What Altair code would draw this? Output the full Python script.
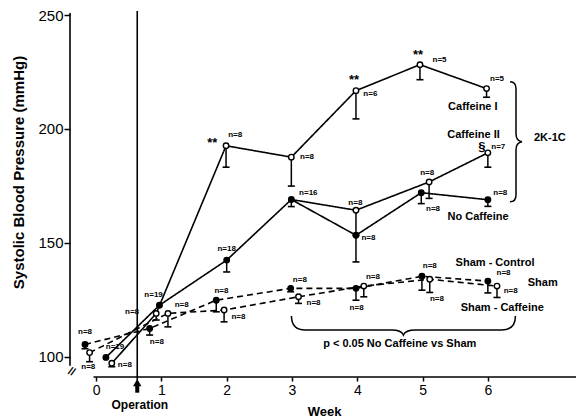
import altair as alt
import pandas as pd

FONT = "Liberation Sans"

# ---------------- data ----------------
weeks_tick = [0, 1, 2, 3, 4, 5, 6]
y_ticks = [100, 150, 200, 250]

caf1_week = [0.24, 0.92, 1.99, 2.99, 3.98, 4.96, 5.98]
caf1_mean = [97.1, 119.0, 192.6, 187.6, 216.8, 228.2, 217.7]
caf1_low = [95.6, 116.1, 183.2, 174.9, 204.4, 221.6, 213.9]

nocaf_week = [0.15, 0.97, 2.0, 2.99, 3.98, 4.98, 6.0]
nocaf_mean = [99.7, 122.6, 142.4, 169.0, 153.3, 172.0, 168.9]
nocaf_low = [99.7, 122.6, 137.2, 165.9, 141.6, 167.2, 166.0]

caf2_week = [3.98, 5.10, 6.0]
caf2_mean = [164.3, 176.7, 189.5]
caf2_low = [153.3, 169.5, 183.2]

shamc_week = [-0.17, 0.82, 1.84, 2.98, 3.98, 4.99, 6.0]
shamc_mean = [105.4, 112.4, 124.8, 130.0, 130.0, 135.3, 133.2]
shamc_low = [103.5, 109.5, 119.7, 128.5, 124.8, 129.2, 128.0]

shamf_week = [-0.10, 1.10, 1.96, 3.10, 4.10, 5.11, 6.14]
shamf_mean = [101.8, 119.0, 120.5, 126.3, 131.0, 134.0, 131.0]
shamf_low = [97.8, 113.1, 115.3, 123.4, 126.3, 128.2, 126.0]

n_text = ["n=8", "n=8", "n=19", "n=8", "n=8", "n=19", "n=8", "n=8", "n=8", "n=18",
          "n=8", "n=8", "n=8", "n=16", "n=8", "n=8", "n=6", "n=8", "n=8", "n=8",
          "n=8", "n=5", "n=8", "n=8", "n=8", "n=8", "n=5", "n=7", "n=8", "n=8", "n=8"]
n_week = [-0.17, -0.12, 0.29, 0.44, 0.55, 0.88, 0.93, 1.31, 2.13, 2.0,
          1.92, 2.18, 3.23, 3.25, 3.12, 3.33, 4.20, 3.97, 4.17, 3.99,
          4.24, 5.26, 5.07, 5.16, 5.11, 5.22, 6.14, 6.16, 6.19, 6.24, 6.35]
n_value = [111.0, 95.6, 104.4, 96.4, 119.8, 127.1, 106.6, 122.7, 197.3, 147.2,
           129.0, 117.6, 187.5, 172.0, 133.7, 123.7, 215.3, 167.6, 152.0, 121.2,
           134.9, 230.3, 180.8, 164.7, 140.0, 125.3, 221.8, 192.2, 171.7, 136.6, 129.0]

star_text = ["**", "**", "**", "§"]
star_week = [1.78, 3.95, 4.93, 5.91]
star_value = [194.0, 221.5, 232.5, 192.2]

grp_text = ["Caffeine I", "Caffeine II", "No Caffeine", "Sham - Control", "Sham",
            "Sham - Caffeine", "2K-1C", "p < 0.05  No Caffeine vs Sham"]
grp_week = [5.77, 5.78, 5.85, 6.11, 6.84, 6.22, 6.95, 4.65]
grp_value = [209.8, 197.3, 161.5, 141.3, 132.5, 121.5, 195.9, 105.6]

operation_week = 0.63

# ---------------- tables ----------------
rows = []
def add(name, wk, mn, lo, marker, dash):
    for w, m, l in zip(wk, mn, lo):
        rows.append(dict(series=name, x=w, y=m, low=l, marker=marker, dash=dash))

add("Caffeine I", caf1_week, caf1_mean, caf1_low, "open", "solid")
add("No Caffeine", nocaf_week, nocaf_mean, nocaf_low, "filled", "solid")
add("Caffeine II", caf2_week, caf2_mean, caf2_low, "open", "solid")
add("Sham-Control", shamc_week, shamc_mean, shamc_low, "filled", "dashed")
add("Sham-Caffeine", shamf_week, shamf_mean, shamf_low, "open", "dashed")
pts = pd.DataFrame(rows)

# line table: Caffeine II branches from the No Caffeine week-3 point
line_rows = list(rows)
line_rows.append(dict(series="Caffeine II", x=nocaf_week[3], y=nocaf_mean[3],
                      low=nocaf_mean[3], marker="none", dash="solid"))
lines = pd.DataFrame(line_rows)

bars = pts[pts["low"] < pts["y"]]

ndf = pd.DataFrame(dict(t=n_text, x=n_week, y=n_value))
sdf = pd.DataFrame(dict(t=star_text, x=star_week, y=star_value))
gdf = pd.DataFrame(dict(t=grp_text, x=grp_week, y=grp_value))

XMIN, XMAX = -0.4, 7.35
YMIN, YMAX = 91.09, 250.88

xs = alt.Scale(domain=[XMIN, XMAX], nice=False, zero=False)
ys = alt.Scale(domain=[YMIN, YMAX], nice=False, zero=False)

x_axis = alt.Axis(values=weeks_tick, domain=False, grid=False, tickSize=4, tickWidth=1.5,
                  tickColor="black", labelFont=FONT, labelFontSize=14, labelColor="black",
                  labelPadding=2, labelFlush=False, title="Week", titleFont=FONT,
                  titleFontSize=13, titleFontWeight="bold", titleColor="black",
                  titleX=254, titleY=34, titleBaseline="middle", titleAlign="center")
y_axis = alt.Axis(values=y_ticks, domain=False, grid=False, tickSize=6, tickWidth=1.5,
                  tickColor="black", labelFont=FONT, labelFontSize=15, labelColor="black",
                  labelPadding=1, title="Systolic Blood Pressure  (mmHg)", titleFont=FONT,
                  titleFontSize=15, titleFontWeight="bold", titleColor="black",
                  titleX=-52, titleY=159, titleAngle=270, titleBaseline="middle",
                  titleAlign="center")

def X(f="x"):
    return alt.X(f + ":Q", scale=xs, axis=x_axis)

def Y(f="y"):
    return alt.Y(f + ":Q", scale=ys, axis=y_axis)

line_layer = alt.Chart(lines).mark_line(color="black", strokeWidth=1.6).encode(
    x=X(), y=Y(), detail="series:N", order="x:Q",
    strokeDash=alt.StrokeDash("dash:N", scale=alt.Scale(domain=["solid", "dashed"],
                              range=[[1, 0], [6, 4]]), legend=None))

bar_layer = alt.Chart(bars).mark_rule(color="black", strokeWidth=1.5).encode(
    x=X(), y=Y(), y2="low:Q")
cap_layer = alt.Chart(bars).mark_point(shape="M-1,0L1,0", size=49, stroke="black",
                                       strokeWidth=1.6, opacity=1, filled=False).encode(
    x=X(), y=Y("low"))

pt_layer = alt.Chart(pts).mark_point(shape="circle", size=30, filled=True, stroke="black",
                                     strokeWidth=1.4, opacity=1).encode(
    x=X(), y=Y(),
    fill=alt.Fill("marker:N", scale=alt.Scale(domain=["filled", "open"],
                                              range=["black", "white"]), legend=None))

n_layer = alt.Chart(ndf).mark_text(font=FONT, fontSize=8, fontWeight="bold", color="black",
                                   align="center", baseline="middle").encode(
    x=X(), y=Y(), text="t:N")
s_layer = alt.Chart(sdf).mark_text(font=FONT, fontSize=13, fontWeight="bold", color="black",
                                   align="center", baseline="middle").encode(
    x=X(), y=Y(), text="t:N")
g_layer = alt.Chart(gdf).mark_text(font=FONT, fontSize=11, fontWeight="bold", color="black",
                                   align="center", baseline="middle").encode(
    x=X(), y=Y(), text="t:N")

# frame decorations in data units
yline = alt.Chart(pd.DataFrame(dict(x=[XMIN], y=[YMAX], y2=[96.0]))).mark_rule(
    color="black", strokeWidth=1.6).encode(x=X(), y=Y(), y2="y2:Q")
xline = alt.Chart(pd.DataFrame(dict(x=[-0.04], x2=[XMAX], y=[YMIN]))).mark_rule(
    color="black", strokeWidth=1.6).encode(x=X(), x2="x2:Q", y=Y())
opline = alt.Chart(pd.DataFrame(dict(x=[operation_week], y=[YMAX + 0.9], y2=[89.5]))).mark_rule(
    color="black", strokeWidth=1.6).encode(x=X(), y=Y(), y2="y2:Q")
arrow_head = alt.Chart(pd.DataFrame(dict(x=[operation_week], y=[88.6]))).mark_point(
    shape="triangle-up", size=70, filled=True, color="black", opacity=1).encode(x=X(), y=Y())
arrow_shaft = alt.Chart(pd.DataFrame(dict(x=[operation_week], y=[87.8], y2=[84.2]))).mark_rule(
    color="black", strokeWidth=4).encode(x=X(), y=Y(), y2="y2:Q")
op_text = alt.Chart(pd.DataFrame(dict(x=[0.67], y=[78.8], t=["Operation"]))).mark_text(
    font=FONT, fontSize=12, fontWeight="bold", color="black", align="center",
    baseline="middle").encode(x=X(), y=Y(), text="t:N")
brk = alt.Chart(pd.DataFrame(dict(x=[-0.375], y=[93.3], t=["//"]))).mark_text(
    font=FONT, fontSize=11, fontWeight="bold", color="black", align="center",
    baseline="middle", angle=25).encode(x=X(), y=Y(), text="t:N")

hbrace_path = ("M-1,-0.0714 Q-1,0.0536 -0.875,0.0536 L-0.107,0.0536 Q-0.0179,0.0536 0,0.0982 "
               "Q0.0179,0.0536 0.107,0.0536 L0.875,0.0536 Q1,0.0536 1,-0.0714")
vbrace_path = ("M-0.1,-1 Q0,-1 0,-0.883 L0,-0.133 Q0,-0.0167 0.1,0 Q0,0.0167 0,0.133 "
               "L0,0.883 Q0,1 -0.1,1")
hbrace = alt.Chart(pd.DataFrame(dict(x=[4.707], y=[114.36]))).mark_point(
    shape=hbrace_path, size=224 * 224, filled=False, stroke="black", strokeWidth=1.5,
    opacity=1).encode(x=X(), y=Y())
vbrace = alt.Chart(pd.DataFrame(dict(x=[6.431], y=[194.4]))).mark_point(
    shape=vbrace_path, size=120 * 120, filled=False, stroke="black", strokeWidth=1.5,
    opacity=1).encode(x=X(), y=Y())

chart = alt.layer(
    yline, xline, opline, arrow_shaft, arrow_head, op_text, brk,
    line_layer, bar_layer, cap_layer, pt_layer, n_layer, s_layer, g_layer, hbrace, vbrace
).properties(
    width=506, height=364,
    autosize=alt.AutoSizeParams(type="none"),
    padding={"left": 70, "top": 13, "right": 0, "bottom": 42},
    background="white"
).configure_view(stroke=None)

chart.save("out.html", embed_options={"renderer": "svg", "actions": False})
